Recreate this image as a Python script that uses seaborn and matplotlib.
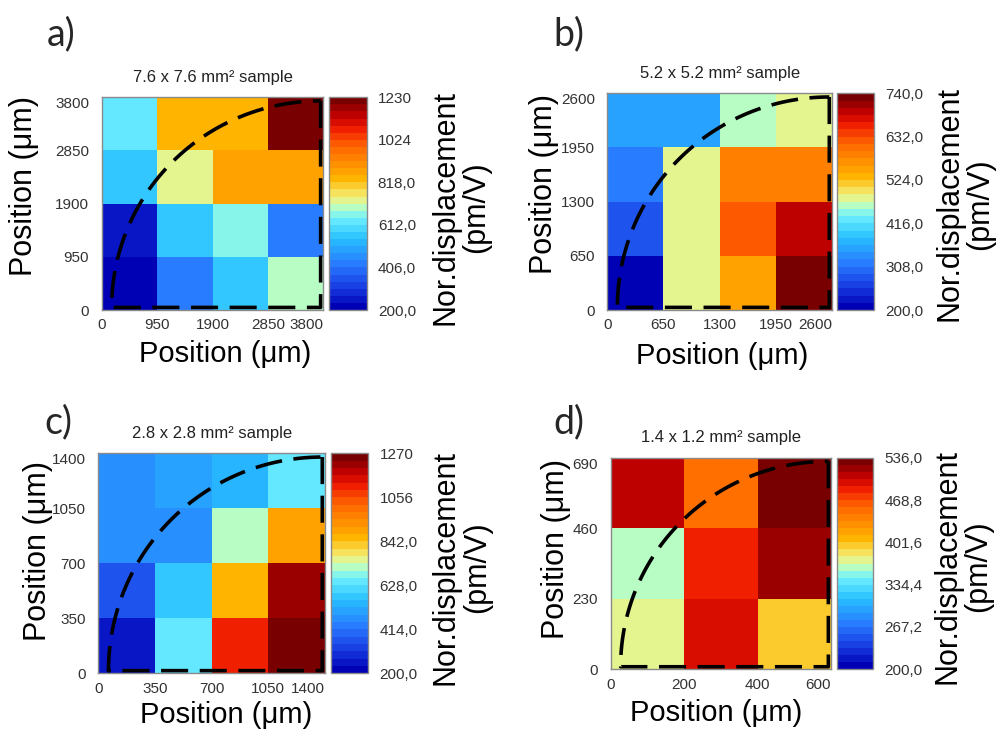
import numpy as np
import matplotlib.pyplot as plt
import seaborn as sns
from matplotlib.colors import LinearSegmentedColormap

sns.set_theme(style="white")
plt.rcParams['font.family'] = ['Liberation Sans', 'DejaVu Sans']

# Datos: desplazamiento normalizado (pm/V), fila superior primero
valores_a = [[643, 839, 839, 1230],
             [560, 746, 880, 880],
             [250, 560, 669, 406],
             [200, 406, 560, 694]]
valores_b = [[351, 351, 459, 473],
             [308, 486, 578, 578],
             [286, 486, 621, 697],
             [211, 473, 556, 740]]
valores_c = [[478, 500, 521, 660],
             [457, 457, 714, 906],
             [371, 575, 863, 1227],
             [243, 660, 1120, 1270]]
valores_d = [[509, 449, 536],
             [361, 489, 523],
             [378, 499, 395]]

limites_a = (200, 1230)
limites_b = (200, 740)
limites_c = (200, 1270)
limites_d = (200, 536)

ticks_x_a = ["0", "950", "1900", "2850", "3800"]
ticks_x_b = ["0", "650", "1300", "1950", "2600"]
ticks_x_c = ["0", "350", "700", "1050", "1400"]
ticks_x_d = ["0", "200", "400", "600"]
ticks_y_a = ["0", "950", "1900", "2850", "3800"]
ticks_y_b = ["0", "650", "1300", "1950", "2600"]
ticks_y_c = ["0", "350", "700", "1050", "1400"]
ticks_y_d = ["0", "230", "460", "690"]

ticks_cb_a = ["200,0", "406,0", "612,0", "818,0", "1024", "1230"]
ticks_cb_b = ["200,0", "308,0", "416,0", "524,0", "632,0", "740,0"]
ticks_cb_c = ["200,0", "414,0", "628,0", "842,0", "1056", "1270"]
ticks_cb_d = ["200,0", "267,2", "334,4", "401,6", "468,8", "536,0"]

titulos = ["7.6 x 7.6 mm² sample", "5.2 x 5.2 mm² sample",
           "2.8 x 2.8 mm² sample", "1.4 x 1.2 mm² sample"]
letras = ["a)", "b)", "c)", "d)"]

# Mapa de colores tipo "rainbow" discreto (30 niveles)
anclas = [(0.00, "#0000b4"), (0.08, "#1432dc"), (0.20, "#2878ff"),
          (0.33, "#28c0ff"), (0.43, "#6ef0ff"), (0.48, "#b4ffc8"),
          (0.53, "#f5f07a"), (0.62, "#ffb400"), (0.70, "#ff8c00"),
          (0.78, "#ff6400"), (0.86, "#f02000"), (0.92, "#c80000"),
          (1.00, "#780000")]
cmap = LinearSegmentedColormap.from_list("arcoiris", anclas, N=30)

W, H = 1001, 733
fig = plt.figure(figsize=(W / 100, H / 100), dpi=100)


def caja(izq, der, arriba, abajo):
    return [izq / W, 1 - abajo / H, (der - izq) / W, (abajo - arriba) / H]


paneles = [
    dict(datos=valores_a, lim=limites_a, tx=ticks_x_a, ty=ticks_y_a, tcb=ticks_cb_a,
         ax=caja(101.7, 323.3, 97.3, 310), cax=caja(329.3, 366.7, 97.3, 310),
         xl=(0.556, -0.205), yl=(-0.351, 0.583), cl=(3.52, 0.482), letra=(61, 34)),
    dict(datos=valores_b, lim=limites_b, tx=ticks_x_b, ty=ticks_y_b, tcb=ticks_cb_b,
         ax=caja(607.3, 832, 93.3, 310), cax=caja(836.7, 874.3, 93.3, 310),
         xl=(0.513, -0.21), yl=(-0.282, 0.581), cl=(3.41, 0.49), letra=(569, 34)),
    dict(datos=valores_c, lim=limites_c, tx=ticks_x_c, ty=ticks_y_c, tcb=ticks_cb_c,
         ax=caja(98.3, 325, 453.3, 673.3), cax=caja(330.7, 368.3, 453.3, 673.3),
         xl=(0.566, -0.19), yl=(-0.268, 0.556), cl=(3.48, 0.481), letra=(58, 422)),
    dict(datos=valores_d, lim=limites_d, tx=ticks_x_d, ty=ticks_y_d, tcb=ticks_cb_d,
         ax=caja(610.7, 831, 457.7, 669.3), cax=caja(836.7, 873.3, 457.7, 669.3),
         xl=(0.477, -0.206), yl=(-0.248, 0.568), cl=(3.45, 0.485), letra=(569, 422)),
]

gris = "#333333"
for i, p in enumerate(paneles):
    ax = fig.add_axes(p["ax"])
    cax = fig.add_axes(p["cax"])
    datos = np.array(p["datos"])
    vmin, vmax = p["lim"]
    nf, nc = datos.shape
    sns.heatmap(datos, ax=ax, cbar_ax=cax, cmap=cmap, vmin=vmin, vmax=vmax,
                xticklabels=False, yticklabels=False,
                cbar_kws={"ticks": np.linspace(vmin, vmax, 6)})

    # ejes con ticks en los bordes de las celdas
    ax.set_xticks(np.arange(nc + 1))
    ax.set_xticklabels(p["tx"], rotation=0)
    ax.set_yticks(np.arange(nf + 1)[::-1])
    ax.set_yticklabels(p["ty"], rotation=0)
    ax.tick_params(axis="both", length=0, labelsize=11, labelcolor=gris)
    ax.tick_params(axis="x", pad=6)
    ax.tick_params(axis="y", pad=9)
    ax.get_xticklabels()[-1].set_ha("right")
    ax.get_yticklabels()[-1].set_va("top")
    for s in ax.spines.values():
        s.set_visible(True)
        s.set_color("#8a8a8a")
        s.set_linewidth(1)

    ax.set_xlabel("Position (μm)", fontsize=21, color="black")
    ax.xaxis.set_label_coords(*p["xl"])
    ax.xaxis.label.set_va("center")
    ax.set_ylabel("Position (μm)", fontsize=22, color="black")
    ax.yaxis.set_label_coords(*p["yl"])
    ax.yaxis.label.set_rotation_mode("default")
    ax.yaxis.label.set_va("center")
    ax.yaxis.label.set_ha("center")
    ax.set_title(titulos[i], fontsize=12, color="#222222", pad=11)

    # contorno de la muestra (cuarto de círculo, discontinuo)
    xs, xr, yb, yt = 0.045, 0.988, 0.012, 0.983
    t = np.linspace(0, np.pi / 2, 100)
    arco_x = xr - (xr - xs) * np.cos(t)
    arco_y = yb + (yt - yb) * np.sin(t)
    cx = np.concatenate([[xr, xr, xs], arco_x])
    cy = np.concatenate([[yt, yb, yb], arco_y])
    ax.plot(cx * nc, (1 - cy) * nf, color="black", lw=2.6,
            ls=(0, (7.5, 3.2)), dash_capstyle="butt", clip_on=False)

    # barra de color
    cb = ax.collections[0].colorbar
    cb.set_ticklabels(p["tcb"])
    cax.tick_params(length=0, labelsize=11, labelcolor=gris, pad=8)
    cb.outline.set_visible(True)
    cb.outline.set_edgecolor("#8a8a8a")
    cb.outline.set_linewidth(1)
    cb.set_label("Nor.displacement\n(pm/V)", fontsize=22, color="black",
                 linespacing=1.05)
    cax.yaxis.set_label_coords(*p["cl"])
    cax.yaxis.label.set_rotation_mode("default")
    cax.yaxis.label.set_va("center")
    cax.yaxis.label.set_ha("center")

    lx, ly = p["letra"]
    fig.text(lx / W, 1 - ly / H, letras[i], fontsize=27, ha="center", va="center",
             family=["Lato", "DejaVu Sans"])

fig.savefig("out.png", dpi=100)
